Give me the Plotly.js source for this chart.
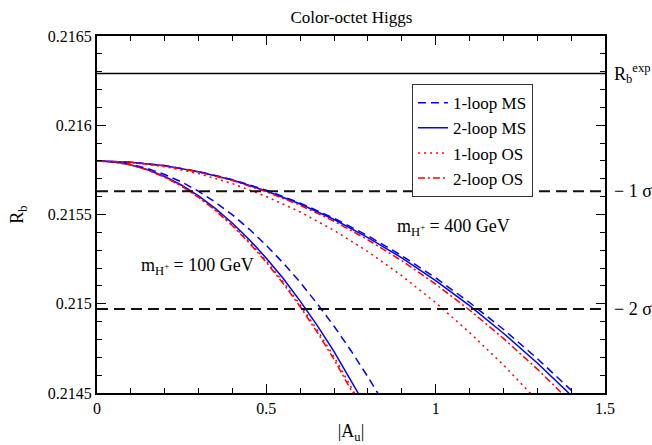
<!DOCTYPE html>
<html>
<head>
<meta charset="utf-8">
<script src="https://cdn.plot.ly/plotly-3.0.1.min.js"></script>
<style>html,body{margin:0;padding:0;background:#fff;}#chart{width:652px;height:445px;}</style>
</head>
<body>
<div id="chart"></div>
<script>
// |A_u| grids
const aLow = [0, 0.05, 0.1, 0.15, 0.2, 0.25, 0.3, 0.35, 0.4, 0.45, 0.5, 0.55, 0.6, 0.65, 0.7, 0.75, 0.8, 0.85];
const aHigh = [0, 0.1, 0.2, 0.3, 0.4, 0.5, 0.6, 0.7, 0.8, 0.9, 1.0, 1.1, 1.2, 1.3, 1.4, 1.5];

// m_H+ = 100 GeV
const ms1_100 = [0.215800, 0.215795, 0.215781, 0.215757, 0.215724, 0.215682, 0.215630, 0.215568, 0.215498, 0.215417, 0.215327, 0.215228, 0.215120, 0.215001, 0.214874, 0.214737, 0.214590, 0.214434];
const ms2_100 = [0.215800, 0.215795, 0.215778, 0.215751, 0.215713, 0.215664, 0.215604, 0.215533, 0.215451, 0.215359, 0.215255, 0.215141, 0.215015, 0.214879, 0.214732, 0.214574, 0.214405];
const os1_100 = [0.215800, 0.215794, 0.215778, 0.215750, 0.215710, 0.215660, 0.215598, 0.215526, 0.215442, 0.215346, 0.215240, 0.215122, 0.214994, 0.214854, 0.214702, 0.214540, 0.214366];
const os2_100 = [0.215800, 0.215794, 0.215777, 0.215749, 0.215709, 0.215658, 0.215596, 0.215522, 0.215437, 0.215340, 0.215232, 0.215113, 0.214983, 0.214841, 0.214688, 0.214523, 0.214347];

// m_H+ = 400 GeV
const ms1_400 = [0.215800, 0.215793, 0.215774, 0.215741, 0.215695, 0.215636, 0.215564, 0.215479, 0.215381, 0.215269, 0.215145, 0.215007, 0.214857, 0.214693, 0.214516, 0.214326];
const ms2_400 = [0.215800, 0.215793, 0.215773, 0.215740, 0.215693, 0.215632, 0.215559, 0.215472, 0.215371, 0.215257, 0.215130, 0.214989, 0.214835, 0.214668, 0.214487, 0.214292];
const os1_400 = [0.215800, 0.215792, 0.215768, 0.215729, 0.215673, 0.215601, 0.215514, 0.215411, 0.215292, 0.215157, 0.215006, 0.214839, 0.214657, 0.214458];
const os2_400 = [0.215800, 0.215793, 0.215772, 0.215738, 0.215690, 0.215627, 0.215552, 0.215462, 0.215358, 0.215241, 0.215110, 0.214965, 0.214806, 0.214634, 0.214448, 0.214247];

// experimental reference lines
const rbExp = 0.21629;
const rbMinus1 = 0.21563;
const rbMinus2 = 0.21497;

const xTickVals = [0, 0.5, 1, 1.5];
const xTickText = ['0', '0.5', '1', '1.5'];
const yTickVals = [0.2145, 0.215, 0.2155, 0.216, 0.2165];
const yTickText = ['0.2145', '0.215', '0.2155', '0.216', '0.2165'];

const FONT = 'Liberation Serif, Times New Roman, serif';
const BLUE = '#0000ff', RED = '#ff0000';
const sMS1 = {color: BLUE, width: 1.5, dash: '8px,5px'};
const sMS2 = {color: BLUE, width: 1.5, dash: 'solid'};
const sOS1 = {color: RED, width: 1.5, dash: '2px,4px'};
const sOS2 = {color: RED, width: 1.5, dash: '7px,3px,2px,3px'};

function tr(x, y, name, line, show) {
  return {x: x, y: y, type: 'scatter', mode: 'lines', name: name, line: line,
          showlegend: show, legendgroup: name, hoverinfo: 'skip'};
}

const data = [
  tr(aLow.slice(0, ms1_100.length), ms1_100, '1-loop MS', sMS1, true),
  tr(aLow.slice(0, ms2_100.length), ms2_100, '2-loop MS', sMS2, true),
  tr(aLow.slice(0, os1_100.length), os1_100, '1-loop OS', sOS1, true),
  tr(aLow.slice(0, os2_100.length), os2_100, '2-loop OS', sOS2, true),
  tr(aHigh.slice(0, ms1_400.length), ms1_400, '1-loop MS', sMS1, false),
  tr(aHigh.slice(0, ms2_400.length), ms2_400, '2-loop MS', sMS2, false),
  tr(aHigh.slice(0, os1_400.length), os1_400, '1-loop OS', sOS1, false),
  tr(aHigh.slice(0, os2_400.length), os2_400, '2-loop OS', sOS2, false)
];

const axisCommon = {
  showgrid: false, zeroline: false, showline: true, linecolor: '#000', linewidth: 2,
  mirror: 'allticks', ticks: 'inside', ticklen: 9, tickwidth: 1, tickcolor: '#000',
  tickfont: {family: FONT, size: 16, color: '#000'}
};

const layout = {
  width: 652, height: 445,
  margin: {l: 97, r: 47, t: 36, b: 52},
  paper_bgcolor: '#fff', plot_bgcolor: '#fff',
  font: {family: FONT, color: '#000'},
  title: {text: 'Color-octet Higgs', font: {family: FONT, size: 17, color: '#000'}, x: 0.539, xanchor: 'center', y: 0.962, yanchor: 'middle'},
  xaxis: Object.assign({}, axisCommon, {
    range: [0, 1.5], tickmode: 'array', tickvals: xTickVals, ticktext: xTickText,
    minor: {ticks: 'inside', ticklen: 5, tickwidth: 1, tickcolor: '#000', dtick: 0.1, tick0: 0, showgrid: false},
    title: {text: '|A<sub>u</sub>|', font: {family: FONT, size: 18, color: '#000'}, standoff: 8}
  }),
  yaxis: Object.assign({}, axisCommon, {
    range: [0.2145, 0.2165], tickmode: 'array', tickvals: yTickVals, ticktext: yTickText,
    minor: {ticks: 'inside', ticklen: 5, tickwidth: 1, tickcolor: '#000', dtick: 0.0001, tick0: 0.2145, showgrid: false},
    title: {text: 'R<sub>b</sub>', font: {family: FONT, size: 18, color: '#000'}, standoff: 19}
  }),
  legend: {
    x: 0.62, y: 0.865, xanchor: 'left', yanchor: 'top',
    bgcolor: '#fff', bordercolor: '#333', borderwidth: 1,
    font: {family: FONT, size: 17, color: '#000'},
    itemwidth: 30, tracegroupgap: 0, traceorder: 'normal'
  },
  shapes: [
    {type: 'line', xref: 'paper', yref: 'y', x0: 0, x1: 1, y0: rbExp, y1: rbExp, line: {color: '#000', width: 1.5}},
    {type: 'line', xref: 'paper', yref: 'y', x0: 0, x1: 1, y0: rbMinus1, y1: rbMinus1, line: {color: '#111', width: 2, dash: '11px,6px'}},
    {type: 'line', xref: 'paper', yref: 'y', x0: 0, x1: 1, y0: rbMinus2, y1: rbMinus2, line: {color: '#111', width: 2, dash: '11px,6px'}}
  ],
  annotations: [
    {xref: 'paper', yref: 'y', x: 1.013, y: rbExp, xanchor: 'left', yanchor: 'middle', showarrow: false,
     text: 'R<sub>b</sub><sup>exp</sup>', font: {family: FONT, size: 18, color: '#000'}},
    {xref: 'paper', yref: 'y', x: 1.013, y: rbMinus1, xanchor: 'left', yanchor: 'middle', showarrow: false,
     text: '\u2212 1 \u03c3', font: {family: FONT, size: 18, color: '#000'}},
    {xref: 'paper', yref: 'y', x: 1.013, y: rbMinus2, xanchor: 'left', yanchor: 'middle', showarrow: false,
     text: '\u2212 2 \u03c3', font: {family: FONT, size: 18, color: '#000'}},
    {xref: 'x', yref: 'y', x: 0.298, y: 0.21521, xanchor: 'center', yanchor: 'middle', showarrow: false,
     text: 'm<sub>H<sup>+</sup></sub> = 100 GeV', font: {family: FONT, size: 18, color: '#000'}},
    {xref: 'x', yref: 'y', x: 1.052, y: 0.21543, xanchor: 'center', yanchor: 'middle', showarrow: false,
     text: 'm<sub>H<sup>+</sup></sub> = 400 GeV', font: {family: FONT, size: 18, color: '#000'}}
  ]
};

Plotly.newPlot('chart', data, layout, {displayModeBar: false, staticPlot: true});
</script>
</body>
</html>
